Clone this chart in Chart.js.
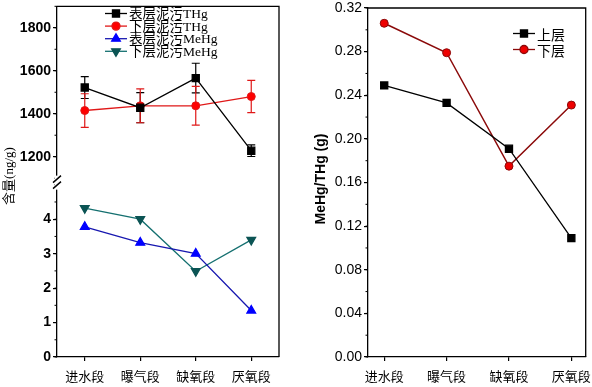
<!DOCTYPE html>
<html>
<head>
<meta charset="utf-8">
<script src="https://cdn.jsdelivr.net/npm/chart.js@4.4.1/dist/chart.umd.min.js"></script>
<style>
  html, body { margin: 0; padding: 0; background: #fff; }
  #wrap { position: relative; width: 592px; height: 387px; }
  #leftChart { position: absolute; left: 0; top: 0; }
  #rightChart { position: absolute; left: 296px; top: 0; }
</style>
</head>
<body>
<div id="wrap">
  <canvas id="leftChart" width="292" height="387"></canvas>
  <canvas id="rightChart" width="296" height="387"></canvas>
</div>
<script>
// categories (sampling points)
const categories = ["进水段", "曝气段", "缺氧段", "厌氧段"];

// left panel: THg (ng/g) with error bars
const surfaceTHg = [1522, 1428, 1566, 1228];
const surfaceTHgErr = [51, 70, 69, 27];
const lowerTHg = [1415, 1437, 1437, 1480];
const lowerTHgErr = [78, 79, 90, 75];

// left panel: MeHg (ng/g)
const surfaceMeHg = [3.78, 3.32, 3.0, 1.35];
const lowerMeHg = [4.32, 4.0, 2.49, 3.4];

// right panel: MeHg/THg ratio
const upperRatio = [0.249, 0.233, 0.191, 0.109];
const lowerRatio = [0.306, 0.279, 0.175, 0.231];

// tick labels
const thgTicks = [1200, 1400, 1600, 1800];
const mehgTicks = [0, 1, 2, 3, 4];
const ratioTicks = [0, 0.04, 0.08, 0.12, 0.16, 0.2, 0.24, 0.28, 0.32];

const sans = "'Liberation Sans', Arial, 'Noto Sans CJK SC', sans-serif";
const serif = "'Liberation Serif', 'Times New Roman', 'Noto Sans CJK SC', serif";
const cjk = "'Noto Sans CJK SC', sans-serif";

// error bars, drawn under the markers
const errorBars = {
  id: "errorBars",
  beforeDatasetsDraw(chart) {
    const { ctx } = chart;
    chart.data.datasets.forEach((ds, di) => {
      if (!ds.errors) return;
      const meta = chart.getDatasetMeta(di);
      const yScale = chart.scales[ds.yAxisID];
      ctx.save();
      ctx.strokeStyle = ds.errorColor;
      ctx.lineWidth = 1.2;
      meta.data.forEach((pt, i) => {
        const top = yScale.getPixelForValue(ds.data[i] + ds.errors[i]);
        const bot = yScale.getPixelForValue(ds.data[i] - ds.errors[i]);
        ctx.beginPath();
        ctx.moveTo(pt.x, top); ctx.lineTo(pt.x, bot);
        ctx.moveTo(pt.x - 4, top); ctx.lineTo(pt.x + 4, top);
        ctx.moveTo(pt.x - 4, bot); ctx.lineTo(pt.x + 4, bot);
        ctx.stroke();
      });
      ctx.restore();
    });
  },
};

// small unlabelled ticks between the major ones
function minorTicks(ctx, scale, step, x) {
  ctx.beginPath();
  const start = Math.ceil(scale.min / step) * step;
  for (let v = start; v <= scale.max + 1e-9; v += step) {
    const y = scale.getPixelForValue(v);
    ctx.moveTo(x, y); ctx.lineTo(x - 2.5, y);
  }
  ctx.stroke();
}

function drawLegend(ctx, datasets, x, y0, dy, font) {
  datasets.forEach((ds, i) => {
    const y = y0 + i * dy;
    ctx.save();
    ctx.strokeStyle = ds.borderColor;
    ctx.lineWidth = 1.3;
    ctx.beginPath(); ctx.moveTo(x, y); ctx.lineTo(x + 22, y); ctx.stroke();
    ctx.fillStyle = ds.backgroundColor;
    ctx.strokeStyle = ds.pointBorderColor || ds.borderColor;
    Chart.helpers.drawPoint(ctx, {
      pointStyle: ds.pointStyle, radius: ds.pointRadius,
      rotation: ds.rotation || 0, borderWidth: ds.pointBorderWidth || 1,
    }, x + 11, y);
    ctx.fillStyle = "#000";
    ctx.font = font;
    ctx.textBaseline = "middle";
    ctx.fillText(ds.label, x + 24, y + 1);
    ctx.restore();
  });
}

const leftDecor = {
  id: "leftDecor",
  afterDraw(chart) {
    const { ctx, chartArea: a } = chart;
    ctx.save();
    ctx.strokeStyle = "#000";
    ctx.lineWidth = 1.3;
    ctx.beginPath();
    ctx.moveTo(a.left, a.top); ctx.lineTo(a.right, a.top); ctx.lineTo(a.right, a.bottom);
    ctx.stroke();
    ctx.lineWidth = 1;
    minorTicks(ctx, chart.scales.yTop, 100, a.left);
    minorTicks(ctx, chart.scales.yBottom, 0.5, a.left);
    // axis break
    const by = chart.scales.yTop.bottom;
    ctx.fillStyle = "#fff";
    ctx.fillRect(a.left - 2, by - 6, 4, 14);
    ctx.lineWidth = 1.4;
    ctx.beginPath();
    ctx.moveTo(a.left - 4, by + 1); ctx.lineTo(a.left + 4, by - 6);
    ctx.moveTo(a.left - 4, by + 7); ctx.lineTo(a.left + 4, by);
    ctx.stroke();
    // y title
    ctx.translate(10, 176);
    ctx.rotate(-Math.PI / 2);
    ctx.fillStyle = "#000";
    ctx.font = "13px " + serif;
    ctx.textAlign = "center";
    ctx.textBaseline = "middle";
    ctx.fillText("含量(ng/g)", 0, 0);
    ctx.restore();
    drawLegend(ctx, chart.data.datasets, 105, 13.5, 12.6, "13.5px " + serif);
  },
};

const rightDecor = {
  id: "rightDecor",
  afterDraw(chart) {
    const { ctx, chartArea: a } = chart;
    ctx.save();
    ctx.strokeStyle = "#000";
    ctx.lineWidth = 1.3;
    ctx.beginPath();
    ctx.moveTo(a.left, a.top); ctx.lineTo(a.right, a.top); ctx.lineTo(a.right, a.bottom);
    ctx.stroke();
    ctx.lineWidth = 1;
    minorTicks(ctx, chart.scales.y, 0.02, a.left);
    ctx.translate(25, 179);
    ctx.rotate(-Math.PI / 2);
    ctx.fillStyle = "#000";
    ctx.font = "bold 14px " + sans;
    ctx.textAlign = "center";
    ctx.textBaseline = "middle";
    ctx.fillText("MeHg/THg (g)", 0, 0);
    ctx.restore();
    drawLegend(ctx, chart.data.datasets, 217, 33.5, 16, "14px " + cjk);
  },
};

const axisBorder = { display: true, color: "#000", width: 1.3 };
const tickGrid = { display: true, drawOnChartArea: false, color: "#000", tickLength: 4, lineWidth: 1.2, offset: false };
const noPad = (w) => (s) => { s.width = w; s.paddingTop = 0; s.paddingBottom = 0; };

// ---- left chart ----
new Chart(document.getElementById("leftChart"), {
  type: "line",
  data: {
    labels: categories,
    datasets: [
      {
        label: "表层泥污THg", data: surfaceTHg, errors: surfaceTHgErr, errorColor: "#000",
        yAxisID: "yTop", borderColor: "#000", backgroundColor: "#000",
        pointStyle: "rect", pointRadius: 5, borderWidth: 1.3,
      },
      {
        label: "下层泥污THg", data: lowerTHg, errors: lowerTHgErr, errorColor: "#e01818",
        yAxisID: "yTop", borderColor: "#e01818", backgroundColor: "#ff0000",
        pointStyle: "circle", pointRadius: 4, pointBorderWidth: 1, borderWidth: 1.3,
      },
      {
        label: "表层泥污MeHg", data: surfaceMeHg,
        yAxisID: "yBottom", borderColor: "#1818b0", backgroundColor: "#0000ff",
        pointBorderColor: "#0000ff", pointStyle: "triangle", pointRadius: 5, borderWidth: 1.3,
      },
      {
        label: "下层泥污MeHg", data: lowerMeHg,
        yAxisID: "yBottom", borderColor: "#157070", backgroundColor: "#0b5454",
        pointBorderColor: "#0b5454", pointStyle: "triangle", rotation: 180, pointRadius: 5, borderWidth: 1.3,
      },
    ],
  },
  options: {
    responsive: false,
    animation: false,
    layout: { padding: { top: 3, right: 13, left: 0, bottom: 0 } },
    plugins: { legend: { display: false }, tooltip: { enabled: false } },
    scales: {
      x: {
        type: "category",
        offset: true,
        border: axisBorder,
        grid: tickGrid,
        ticks: { color: "#000", font: { size: 13, family: cjk }, padding: 7 },
        afterFit: (s) => { s.height = 30; },
      },
      yBottom: {
        type: "linear", position: "left", stack: "left", stackWeight: 1,
        min: 0, max: 5.09,
        border: axisBorder, grid: tickGrid,
        ticks: { color: "#000", padding: 2, font: { size: 14, weight: "bold", family: sans }, callback: (v) => String(v) },
        afterBuildTicks: (s) => { s.ticks = mehgTicks.map((v) => ({ value: v })); },
        afterFit: noPad(57),
      },
      yTop: {
        type: "linear", position: "left", stack: "left", stackWeight: 1,
        min: 1084, max: 1900,
        border: axisBorder, grid: tickGrid,
        ticks: { color: "#000", padding: 2, font: { size: 14, weight: "bold", family: sans }, callback: (v) => String(v) },
        afterBuildTicks: (s) => { s.ticks = thgTicks.map((v) => ({ value: v })); },
        afterFit: noPad(57),
      },
    },
  },
  plugins: [errorBars, leftDecor],
});

// ---- right chart ----
new Chart(document.getElementById("rightChart"), {
  type: "line",
  data: {
    datasets: [
      {
        label: "上层", data: upperRatio.map((v, i) => ({ x: i, y: v })),
        borderColor: "#000", backgroundColor: "#000",
        pointStyle: "rect", pointRadius: 5, borderWidth: 1.3,
      },
      {
        label: "下层", data: lowerRatio.map((v, i) => ({ x: i, y: v })),
        borderColor: "#8b0a0a", backgroundColor: "#ee0000", pointBorderColor: "#8b0a0a",
        pointStyle: "circle", pointRadius: 4, pointBorderWidth: 1, borderWidth: 1.5,
      },
    ],
  },
  options: {
    responsive: false,
    animation: false,
    layout: { padding: { top: 8, right: 5, left: 0, bottom: 0 } },
    plugins: { legend: { display: false }, tooltip: { enabled: false } },
    scales: {
      x: {
        type: "linear", min: -0.26, max: 3.23,
        border: axisBorder, grid: tickGrid,
        ticks: { color: "#000", font: { size: 13, family: cjk }, padding: 7, callback: (v) => categories[v] },
        afterBuildTicks: (s) => { s.ticks = categories.map((c, i) => ({ value: i })); },
        afterFit: (s) => { s.height = 30; s.paddingLeft = 0; s.paddingRight = 0; },
      },
      y: {
        type: "linear", min: 0, max: 0.32,
        border: axisBorder, grid: tickGrid,
        ticks: { color: "#000", padding: 2, font: { size: 14, family: sans }, callback: (v) => v.toFixed(2) },
        afterBuildTicks: (s) => { s.ticks = ratioTicks.map((v) => ({ value: v })); },
        afterFit: noPad(72),
      },
    },
  },
  plugins: [rightDecor],
});
</script>
</body>
</html>
